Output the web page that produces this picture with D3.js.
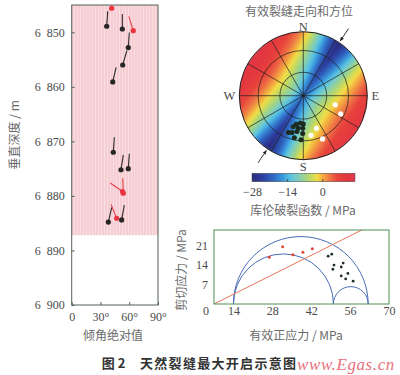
<!DOCTYPE html>
<html>
<head>
<meta charset="utf-8">
<script src="https://cdn.jsdelivr.net/npm/d3@7"></script>
<style>
body { margin: 0; background: #fff; }
svg { display: block; }
.num { font-family: "Liberation Serif", "DejaVu Serif", serif; font-size: 12px; fill: #4a4a4a; }
.cjk { font-family: "Noto Sans CJK SC", sans-serif; font-size: 12px; fill: #6a6a6a; }
</style>
</head>
<body>
<script>
// ---------- left panel: depth vs dip (tadpoles) ----------
var depthTicks = [6850, 6860, 6870, 6880, 6890, 6900];
var dipTicks = [0, 30, 60, 90];
var pinkDepth = [6845, 6887.2];
var tadDepth = [6845.6, 6848.9, 6849.4, 6849.7, 6852.8, 6856.0, 6859.1, 6872.0, 6875.2, 6875.0, 6879.5, 6879.2, 6884.8, 6884.1, 6884.4];
var tadDip   = [41.7, 36.5, 52.8, 64.2, 59.0, 53.2, 42.8, 43.4, 51.4, 59.0, 53.8, 53.0, 38.2, 46.9, 52.1];
var tadAz    = [0, 4, 0, -17, 4, 16, 13, 4, 9, 4, -2, -55, 13, -22, 10];
var tadRed   = [1, 0, 0, 1, 0, 0, 0, 0, 0, 0, 1, 1, 0, 1, 0];

// ---------- stereonet ----------
var gridDips = [30, 60, 90];
var spokeAz = [0, 30, 60, 90, 120, 150];
var compassText = ["N", "E", "S", "W"];
var compassAz = [0, 90, 180, 270];
var compassGap = [5.5, 8, 7, 10];
var arrowAz = [34, 214];
var blackPoleAz  = [194, 186, 180, 198, 189, 181, 202, 197, 190, 181, 192, 183];
var blackPoleDip = [37.9, 35.4, 36.3, 42.3, 42.3, 42.3, 52, 50.2, 47.5, 49.3, 56.6, 58.4];
var whitePoleAz  = [106, 116, 158, 169, 156];
var whitePoleDip = [43.1, 54.7, 45.8, 52.9, 63.1];
var fieldAxis = 34;
var fieldAcross = [-1, -0.8, -0.6, -0.45, -0.3, -0.15, 0, 0.15, 0.3, 0.45, 0.6, 0.8, 1];
var fieldAlong = [0, 0.5, 1];
var fieldCenter = [11, 9, 4, -1, -5, -10, -19, -11, -6, -2, 2, 7, 10];
var fieldMid    = [11, 8, 3, -2, -8, -15, -24, -16, -9, -3, 1, 7, 10];
var fieldEdge   = [11, 8, 2, -4, -12, -21, -28, -22, -13, -5, 1, 7, 10];
var cffStops  = [-28, -24, -20, -16, -13, -10, -7, -4, -2, 0, 3, 6, 10, 13];
var cffColors = ["#2b2a7c", "#2c3f9e", "#2f63c0", "#3a96dc", "#56c0e4", "#7ccdc0", "#9fd48a",
                 "#cddc5a", "#f2dc48", "#f4b040", "#ef7446", "#e8443c", "#e23640", "#e03a52"];
var cffTicks = [-28, -14, 0];

// ---------- Mohr diagram ----------
var mohrXTicks = [14, 28, 42, 56, 70];
var mohrYTicks = [0, 7, 14, 21];
var mohrCircles = [[14, 62.5], [14, 50], [50, 62.5]];
var lineSigma = [7, 60.2];
var lineTau = [0, 26.6];
var redSigma = [26.9, 31.7, 35.4, 39.0, 42.4];
var redTau   = [16.8, 20.6, 17.7, 18.6, 19.9];
var blackSigma = [48.1, 49.4, 50.2, 49.8, 53.5, 52.8, 55.2, 52.8, 54.4, 57.1];
var blackTau   = [17.2, 17.9, 14.0, 12.5, 14.7, 13.3, 11.0, 10.1, 9.0, 8.2];

var svg = d3.select("body").append("svg").attr("width", 400).attr("height", 375);
var defs = svg.append("defs");

//////////////////////////// left panel ////////////////////////////
var x1 = d3.scaleLinear().domain([0, 90]).range([71.7, 158]);
var y1 = d3.scaleLinear().domain([6845, 6900]).range([5, 305]);

var pat = defs.append("pattern").attr("id", "pinkStripe")
    .attr("patternUnits", "userSpaceOnUse").attr("width", 3).attr("height", 10);
pat.append("rect").attr("width", 3).attr("height", 10).attr("fill", "#f5cdd3");
pat.append("rect").attr("x", 2).attr("width", 1).attr("height", 10).attr("fill", "#f9dee2");

defs.append("clipPath").attr("id", "clipLeft").append("rect")
    .attr("x", x1(0)).attr("y", y1(6845))
    .attr("width", x1(90) - x1(0)).attr("height", y1(6900) - y1(6845));

svg.append("rect")
    .attr("x", x1(0)).attr("y", y1(pinkDepth[0]))
    .attr("width", x1(90) - x1(0))
    .attr("height", y1(pinkDepth[1]) - y1(pinkDepth[0]))
    .attr("fill", "url(#pinkStripe)");

var fmtDepth = function (d) { var s = String(d); return s.charAt(0) + "\u2002" + s.slice(1); };
var yAx1 = svg.append("g").attr("transform", "translate(" + x1(0) + ",0)")
    .call(d3.axisLeft(y1).tickValues(depthTicks).tickFormat(fmtDepth)
        .tickSizeInner(-3).tickSizeOuter(0).tickPadding(7));
var xAx1 = svg.append("g").attr("transform", "translate(0," + y1(6900) + ")")
    .call(d3.axisBottom(x1).tickValues(dipTicks)
        .tickFormat(function (d) { return d ? d + "°" : "0"; })
        .tickSizeInner(-3).tickSizeOuter(0).tickPadding(7));
[yAx1, xAx1].forEach(function (g) {
    g.select(".domain").remove();
    g.selectAll("line").attr("stroke", "#55605a");
    g.selectAll("text").attr("class", "num").attr("font-family", null).attr("font-size", null).attr("fill", null);
});
svg.append("rect")
    .attr("x", x1(0)).attr("y", y1(6845))
    .attr("width", x1(90) - x1(0)).attr("height", y1(6900) - y1(6845))
    .attr("fill", "none").attr("stroke", "#55605a").attr("stroke-width", 1);

var tads = tadDepth.map(function (d, i) {
    return {depth: d, dip: tadDip[i], az: tadAz[i], red: tadRed[i]};
});
var tailLen = 15;
svg.append("g").attr("clip-path", "url(#clipLeft)")
    .selectAll("line").data(tads).enter().append("line")
    .attr("x1", function (d) { return x1(d.dip); })
    .attr("y1", function (d) { return y1(d.depth); })
    .attr("x2", function (d) { return x1(d.dip) + tailLen * Math.sin(d.az * Math.PI / 180); })
    .attr("y2", function (d) { return y1(d.depth) - tailLen * Math.cos(d.az * Math.PI / 180); })
    .attr("stroke", function (d) { return d.red ? "#e8404a" : "#2a2a2a"; })
    .attr("stroke-width", 1.1);
svg.append("g").selectAll("circle").data(tads).enter().append("circle")
    .attr("cx", function (d) { return x1(d.dip); })
    .attr("cy", function (d) { return y1(d.depth); })
    .attr("r", 2.6)
    .attr("fill", function (d) { return d.red ? "#ea3440" : "#262626"; });

svg.append("text").attr("class", "cjk")
    .attr("transform", "translate(19," + y1(6868.8) + ") rotate(-90)")
    .attr("text-anchor", "middle").text("垂直深度 / m");
svg.append("text").attr("class", "cjk").attr("x", 113).attr("y", 340)
    .attr("text-anchor", "middle").text("倾角绝对值");

//////////////////////////// stereonet ////////////////////////////
var stCx = 303.3, stCy = 95.7, stR = 64;
var rad = Math.PI / 180;
function eqArea(dip) { return stR * Math.SQRT2 * Math.sin(dip * rad / 2); }
function stPos(az, dip) {
    var r = eqArea(dip);
    return [stCx + r * Math.sin(az * rad), stCy - r * Math.cos(az * rad)];
}
var cffColor = d3.scaleLinear().domain(cffStops).range(cffColors).clamp(true);
var rowScales = [fieldCenter, fieldMid, fieldEdge].map(function (row) {
    return d3.scaleLinear().domain(fieldAcross).range(row).clamp(true);
});

// raster of the field, drawn to a canvas then placed in the svg
var size = 2 * stR + 2;
var canvas = document.createElement("canvas");
canvas.width = size; canvas.height = size;
var ctx = canvas.getContext("2d");
var img = ctx.createImageData(size, size);
var sA = Math.sin(fieldAxis * rad), cA = Math.cos(fieldAxis * rad);
for (var j = 0; j < size; j++) {
    for (var i = 0; i < size; i++) {
        var px = i + 0.5 - size / 2, py = j + 0.5 - size / 2;
        var dist = Math.sqrt(px * px + py * py);
        var alpha = Math.max(0, Math.min(1, stR + 0.5 - dist));
        if (alpha <= 0) continue;
        var u = (px * sA - py * cA) / stR;
        var v = (px * cA + py * sA) / stR;
        var vals = rowScales.map(function (s) { return s(v); });
        var val = d3.scaleLinear().domain(fieldAlong).range(vals).clamp(true)(Math.abs(u));
        var c = d3.rgb(cffColor(val));
        var k = (j * size + i) * 4;
        img.data[k] = c.r; img.data[k + 1] = c.g; img.data[k + 2] = c.b;
        img.data[k + 3] = Math.round(alpha * 255);
    }
}
ctx.putImageData(img, 0, 0);
svg.append("image")
    .attr("x", stCx - size / 2).attr("y", stCy - size / 2)
    .attr("width", size).attr("height", size)
    .attr("href", canvas.toDataURL());

var gNet = svg.append("g");
gNet.selectAll(".spoke").data(spokeAz).enter().append("line")
    .attr("x1", function (d) { return stCx - stR * Math.sin(d * rad); })
    .attr("y1", function (d) { return stCy + stR * Math.cos(d * rad); })
    .attr("x2", function (d) { return stCx + stR * Math.sin(d * rad); })
    .attr("y2", function (d) { return stCy - stR * Math.cos(d * rad); })
    .attr("stroke", "#1c1c1c").attr("stroke-width", 0.7);
gNet.selectAll(".ring").data(gridDips).enter().append("circle")
    .attr("cx", stCx).attr("cy", stCy)
    .attr("r", function (d) { return eqArea(d); })
    .attr("fill", "none").attr("stroke", "#1c1c1c")
    .attr("stroke-width", function (d) { return d === 90 ? 1 : 0.7; });

gNet.selectAll(".bpole").data(blackPoleAz).enter().append("circle")
    .attr("cx", function (d, i) { return stPos(d, blackPoleDip[i])[0]; })
    .attr("cy", function (d, i) { return stPos(d, blackPoleDip[i])[1]; })
    .attr("r", 2.5).attr("fill", "#1d2a20");
gNet.selectAll(".wpole").data(whitePoleAz).enter().append("circle")
    .attr("cx", function (d, i) { return stPos(d, whitePoleDip[i])[0]; })
    .attr("cy", function (d, i) { return stPos(d, whitePoleDip[i])[1]; })
    .attr("r", 2.6).attr("fill", "#ffffff");

defs.append("marker").attr("id", "arrowHead")
    .attr("viewBox", "0 0 10 10").attr("refX", 9).attr("refY", 5)
    .attr("markerWidth", 5).attr("markerHeight", 5).attr("orient", "auto")
    .append("path").attr("d", "M0,1L10,5L0,9Z").attr("fill", "#222");
gNet.selectAll(".arrow").data(arrowAz).enter().append("line")
    .attr("x1", function (d) { return stCx + (stR + 17) * Math.sin(d * rad); })
    .attr("y1", function (d) { return stCy - (stR + 17) * Math.cos(d * rad); })
    .attr("x2", function (d) { return stCx + (stR + 2) * Math.sin(d * rad); })
    .attr("y2", function (d) { return stCy - (stR + 2) * Math.cos(d * rad); })
    .attr("stroke", "#222").attr("stroke-width", 0.9)
    .attr("marker-end", "url(#arrowHead)");

gNet.selectAll(".dir").data(compassText).enter().append("text")
    .attr("class", "num")
    .attr("x", function (d, i) { return stCx + (stR + compassGap[i]) * Math.sin(compassAz[i] * rad); })
    .attr("y", function (d, i) { return stCy - (stR + compassGap[i]) * Math.cos(compassAz[i] * rad); })
    .attr("dy", "0.35em").attr("text-anchor", "middle")
    .style("font-size", "12.5px")
    .text(function (d) { return d; });

svg.append("text").attr("class", "cjk").attr("x", 299).attr("y", 15.5)
    .attr("text-anchor", "middle").text("有效裂缝走向和方位");

// colour bar
var cbX = d3.scaleLinear().domain([-28, 13]).range([252, 355]);
var grad = defs.append("linearGradient").attr("id", "cffGrad");
grad.selectAll("stop").data(cffStops).enter().append("stop")
    .attr("offset", function (d) { return (cbX(d) - 252) / 103; })
    .attr("stop-color", function (d, i) { return cffColors[i]; });
svg.append("rect").attr("x", 252).attr("y", 173.3).attr("width", 103).attr("height", 8.4)
    .attr("fill", "url(#cffGrad)").attr("stroke", "#444").attr("stroke-width", 0.5);
var cbAx = svg.append("g").attr("transform", "translate(0,181.7)")
    .call(d3.axisBottom(cbX).tickValues(cffTicks).tickSizeInner(-2.5).tickSizeOuter(0).tickPadding(6));
cbAx.select(".domain").remove();
cbAx.selectAll("line").attr("stroke", "#444");
cbAx.selectAll("text").attr("class", "num").attr("font-family", null).attr("font-size", null).attr("fill", null);
svg.append("text").attr("class", "cjk").attr("x", 303).attr("y", 215)
    .attr("text-anchor", "middle").text("库伦破裂函数 / MPa");

//////////////////////////// Mohr diagram ////////////////////////////
var x2 = d3.scaleLinear().domain([7, 70]).range([214, 389]);
var y2 = d3.scaleLinear().domain([0, 26.6]).range([304, 230]);
defs.append("clipPath").attr("id", "clipMohr").append("rect")
    .attr("x", 214).attr("y", 230).attr("width", 175).attr("height", 74);

var gM = svg.append("g").attr("clip-path", "url(#clipMohr)");
gM.selectAll(".mohr").data(mohrCircles).enter().append("path")
    .attr("d", function (d) {
        var rx = (x2(d[1]) - x2(d[0])) / 2;
        var ry = y2(0) - y2((d[1] - d[0]) / 2);
        return "M" + x2(d[0]) + "," + y2(0) + "A" + rx + "," + ry + " 0 0 1 " + x2(d[1]) + "," + y2(0);
    })
    .attr("fill", "none").attr("stroke", "#4a6cb8").attr("stroke-width", 1);
gM.append("line")
    .attr("x1", x2(lineSigma[0])).attr("y1", y2(lineTau[0]))
    .attr("x2", x2(lineSigma[1])).attr("y2", y2(lineTau[1]))
    .attr("stroke", "#e8745e").attr("stroke-width", 1);
gM.selectAll(".rdot").data(redSigma).enter().append("circle")
    .attr("cx", function (d) { return x2(d); })
    .attr("cy", function (d, i) { return y2(redTau[i]); })
    .attr("r", 1.5).attr("fill", "#e0483a");
gM.selectAll(".kdot").data(blackSigma).enter().append("circle")
    .attr("cx", function (d) { return x2(d); })
    .attr("cy", function (d, i) { return y2(blackTau[i]); })
    .attr("r", 1.4).attr("fill", "#1e2e22");

svg.append("rect").attr("x", 214).attr("y", 230).attr("width", 175).attr("height", 74)
    .attr("fill", "none").attr("stroke", "#4e8e52").attr("stroke-width", 1);

var xAx2 = svg.append("g").attr("transform", "translate(0,304)")
    .call(d3.axisBottom(x2).tickValues(mohrXTicks).tickSize(0).tickPadding(2));
var yAx2 = svg.append("g").attr("transform", "translate(214,0)")
    .call(d3.axisLeft(y2).tickValues(mohrYTicks).tickSize(0).tickPadding(6));
[xAx2, yAx2].forEach(function (g) {
    g.select(".domain").remove();
    g.selectAll("text").attr("class", "num").attr("font-family", null).attr("font-size", null).attr("fill", null);
});
yAx2.selectAll(".tick text").filter(function (d) { return d === 0; })
    .attr("dy", "0.85em").attr("x", -5);

svg.append("text").attr("class", "cjk")
    .attr("transform", "translate(186,270) rotate(-90)")
    .attr("text-anchor", "middle").text("剪切应力 / MPa");
svg.append("text").attr("class", "cjk").attr("x", 296).attr("y", 340)
    .attr("text-anchor", "middle").text("有效正应力 / MPa");

//////////////////////////// caption ////////////////////////////
svg.append("text").attr("x", 101.7).attr("y", 368)
    .style("font-family", "'Noto Sans CJK SC', sans-serif").style("font-size", "13px")
    .style("font-weight", "bold").style("fill", "#333").text("图 2");
svg.append("text").attr("x", 140).attr("y", 368)
    .style("font-family", "'Noto Sans CJK SC', sans-serif").style("font-size", "13px")
    .style("font-weight", "bold").style("letter-spacing", "1.3px").style("fill", "#333")
    .text("天然裂缝最大开启示意图");
svg.append("text").attr("x", 297).attr("y", 370)
    .style("font-family", "'Liberation Serif', serif").style("font-size", "17px")
    .style("font-style", "italic").style("letter-spacing", "0.6px").style("fill", "#e8707e")
    .text("www.Egas.cn");
</script>
</body>
</html>
